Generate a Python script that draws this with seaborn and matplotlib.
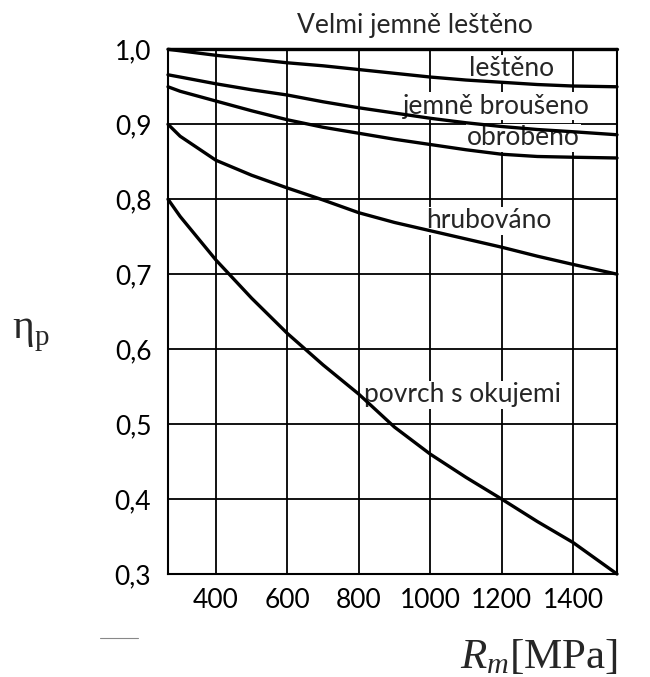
import matplotlib
matplotlib.use("Agg")
import matplotlib.pyplot as plt
from matplotlib.lines import Line2D
from matplotlib.ticker import FixedLocator, FuncFormatter
import seaborn as sns
import pandas as pd

# Tensile strength Rm [MPa] at which the curves are read
rm = [266, 300, 400, 500, 600, 700, 800, 900, 1000, 1100, 1200, 1300, 1400, 1523]

# Surface factor eta_p for each surface finish
velmi_jemne_lesteno = [1.000] * len(rm)
lesteno = [1.000, 0.998, 0.992, 0.987, 0.982, 0.978, 0.973, 0.968, 0.963, 0.959, 0.956, 0.953, 0.951, 0.950]
jemne_brouseno = [0.966, 0.963, 0.954, 0.946, 0.939, 0.930, 0.922, 0.915, 0.908, 0.902, 0.897, 0.893, 0.890, 0.886]
obrobeno = [0.950, 0.944, 0.931, 0.918, 0.906, 0.896, 0.888, 0.880, 0.873, 0.866, 0.860, 0.857, 0.856, 0.855]
hrubovano = [0.900, 0.884, 0.852, 0.832, 0.815, 0.799, 0.782, 0.769, 0.758, 0.747, 0.736, 0.724, 0.713, 0.700]
povrch_s_okujemi = [0.800, 0.777, 0.719, 0.668, 0.621, 0.579, 0.540, 0.496, 0.460, 0.429, 0.400, 0.370, 0.342, 0.300]

series_names = ["Velmi jemně leštěno", "leštěno", "jemně broušeno", "obrobeno", "hrubováno", "povrch s okujemi"]
series_values = [velmi_jemne_lesteno, lesteno, jemne_brouseno, obrobeno, hrubovano, povrch_s_okujemi]

x_ticks = [400, 600, 800, 1000, 1200, 1400]
y_ticks = [0.3, 0.4, 0.5, 0.6, 0.7, 0.8, 0.9, 1.0]

df = pd.DataFrame(
    [(name, x, y) for name, vals in zip(series_names, series_values) for x, y in zip(rm, vals)],
    columns=["povrch", "Rm", "eta"],
)

sns.set_style("white")
plt.rcParams["font.family"] = ["Lato", "DejaVu Sans"]
plt.rcParams["mathtext.fontset"] = "custom"
plt.rcParams["mathtext.rm"] = "Liberation Serif"
plt.rcParams["mathtext.it"] = "Liberation Serif:italic"

fig = plt.figure(figsize=(6.5, 6.77), dpi=100)
ax = fig.add_axes([168 / 650, 1 - 574 / 677, (617 - 168) / 650, (574 - 49.3) / 677])

sns.lineplot(
    data=df, x="Rm", y="eta", hue="povrch", units="povrch", estimator=None,
    palette=["black"] * len(series_names), linewidth=2.4, legend=False, ax=ax,
    zorder=4, clip_on=False,
)

ax.set_xlim(266, 1523)
ax.set_ylim(0.3, 1.0)
ax.xaxis.set_major_locator(FixedLocator(x_ticks))
ax.yaxis.set_major_locator(FixedLocator(y_ticks))
ax.yaxis.set_major_formatter(FuncFormatter(lambda v, p: f"{v:.1f}".replace(".", ",")))
ax.tick_params(axis="both", length=0, labelsize=19, colors="black")
ax.tick_params(axis="x", pad=10)
ax.tick_params(axis="y", pad=12)
ax.grid(True, color="black", linewidth=1.3)
ax.set_axisbelow(True)
for s in ax.spines.values():
    s.set_color("black")
    s.set_linewidth(1.5)
ax.set_xlabel("")
ax.set_ylabel("")

# Curve labels on white boxes that hide the grid beneath them
label_pos = {
    "leštěno": (1227, 0.974),
    "jemně broušeno": (1185, 0.924),
    "obrobeno": (1261, 0.882),
    "hrubováno": (1163, 0.771),
    "povrch s okujemi": (1090, 0.539),
}
for name, (lx, ly) in label_pos.items():
    ax.text(lx, ly, name, ha="center", va="center", fontsize=19, zorder=3,
            bbox=dict(facecolor="white", edgecolor="none", pad=1))
ax.text(958, 1.032, "Velmi jemně leštěno", ha="center", va="center", fontsize=19,
        clip_on=False)

# Axis symbols in a serif face
fig.text(12 / 650, 1 - 338 / 677, "η", family="Liberation Serif", fontsize=30, va="baseline")
fig.text(35 / 650, 1 - 345 / 677, "p", family="Liberation Serif", fontsize=21, va="baseline")
fig.text(618 / 650, 1 - 668 / 677, r"$R_m\mathrm{[MPa]}$", fontsize=31, ha="right", va="baseline")
fig.add_artist(Line2D([100 / 650, 138 / 650], [1 - 638 / 677] * 2, color="#888888", linewidth=0.8))

fig.savefig("out.png", dpi=100, facecolor="white")
